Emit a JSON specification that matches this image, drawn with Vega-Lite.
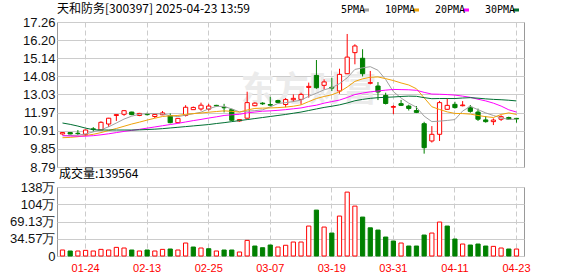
{
  "$schema": "https://vega.github.io/schema/vega-lite/v6.json",
  "autosize": {"type": "pad"},
  "padding": {"left": 8, "top": 2, "right": 5, "bottom": 2},
  "background": "#ffffff",
  "bounds": "flush",
  "spacing": 20,
  "config": {
    "view": {"stroke": "#999999", "strokeWidth": 1},
    "axis": {"labelFont": "Liberation Sans", "domain": false, "ticks": false, "gridColor": "#cccccc", "gridWidth": 1, "title": null, "labelColor": "#111111", "labelOverlap": false},
    "title": {"font": "Noto Sans CJK SC", "fontSize": 12, "fontWeight": "normal", "color": "#000000", "anchor": "start", "frame": "group"}
  },
  "datasets": {
    "k": [
      {"d":"01-21","o":10.72,"h":10.82,"l":10.68,"c":10.80,"v":120000,"vd":"up","5PMA":10.62,"10PMA":10.50,"20PMA":10.62,"30PMA":11.36},
      {"d":"01-22","o":10.80,"h":10.82,"l":10.70,"c":10.72,"v":100000,"vd":"down","5PMA":10.63,"10PMA":10.52,"20PMA":10.60,"30PMA":11.28},
      {"d":"01-23","o":10.76,"h":10.95,"l":10.66,"c":10.74,"v":100000,"vd":"up","5PMA":10.65,"10PMA":10.56,"20PMA":10.59,"30PMA":11.18},
      {"d":"01-24","o":10.70,"h":10.97,"l":10.60,"c":10.95,"v":113000,"vd":"up","5PMA":10.72,"10PMA":10.63,"20PMA":10.59,"30PMA":11.06},
      {"d":"01-27","o":11.02,"h":11.12,"l":10.86,"c":10.98,"v":100000,"vd":"up","5PMA":10.84,"10PMA":10.70,"20PMA":10.62,"30PMA":10.97},
      {"d":"02-05","o":10.96,"h":11.46,"l":10.94,"c":11.40,"v":133000,"vd":"up","5PMA":10.96,"10PMA":10.80,"20PMA":10.67,"30PMA":10.95},
      {"d":"02-06","o":11.30,"h":11.66,"l":11.13,"c":11.64,"v":120000,"vd":"up","5PMA":11.14,"10PMA":10.92,"20PMA":10.73,"30PMA":10.95},
      {"d":"02-07","o":11.80,"h":11.86,"l":11.48,"c":11.85,"v":173000,"vd":"up","5PMA":11.36,"10PMA":11.04,"20PMA":10.80,"30PMA":10.95},
      {"d":"02-10","o":11.87,"h":12.12,"l":11.78,"c":12.08,"v":160000,"vd":"up","5PMA":11.59,"10PMA":11.17,"20PMA":10.87,"30PMA":10.95},
      {"d":"02-11","o":12.00,"h":12.02,"l":11.82,"c":11.85,"v":120000,"vd":"down","5PMA":11.76,"10PMA":11.30,"20PMA":10.93,"30PMA":10.95},
      {"d":"02-12","o":11.80,"h":11.95,"l":11.76,"c":11.92,"v":100000,"vd":"up","5PMA":11.87,"10PMA":11.41,"20PMA":10.99,"30PMA":10.96},
      {"d":"02-13","o":11.88,"h":11.96,"l":11.80,"c":11.85,"v":120000,"vd":"down","5PMA":11.91,"10PMA":11.53,"20PMA":11.06,"30PMA":10.98},
      {"d":"02-14","o":11.74,"h":11.87,"l":11.65,"c":11.86,"v":100000,"vd":"up","5PMA":11.91,"10PMA":11.64,"20PMA":11.13,"30PMA":11.00},
      {"d":"02-17","o":11.84,"h":12.06,"l":11.82,"c":11.95,"v":133000,"vd":"up","5PMA":11.89,"10PMA":11.74,"20PMA":11.20,"30PMA":11.03},
      {"d":"02-18","o":11.79,"h":11.92,"l":11.34,"c":11.38,"v":140000,"vd":"down","5PMA":11.79,"10PMA":11.78,"20PMA":11.27,"30PMA":11.07},
      {"d":"02-19","o":11.38,"h":11.65,"l":11.36,"c":11.63,"v":120000,"vd":"up","5PMA":11.73,"10PMA":11.80,"20PMA":11.34,"30PMA":11.11},
      {"d":"02-20","o":11.80,"h":12.40,"l":11.74,"c":12.28,"v":260000,"vd":"up","5PMA":11.82,"10PMA":11.87,"20PMA":11.42,"30PMA":11.15},
      {"d":"02-21","o":12.14,"h":12.32,"l":12.12,"c":12.27,"v":180000,"vd":"down","5PMA":11.90,"10PMA":11.91,"20PMA":11.50,"30PMA":11.19},
      {"d":"02-24","o":12.18,"h":12.55,"l":12.08,"c":12.40,"v":160000,"vd":"up","5PMA":11.99,"10PMA":11.94,"20PMA":11.57,"30PMA":11.23},
      {"d":"02-25","o":12.17,"h":12.48,"l":12.08,"c":12.35,"v":146000,"vd":"down","5PMA":12.19,"10PMA":11.99,"20PMA":11.65,"30PMA":11.27},
      {"d":"02-26","o":12.39,"h":12.42,"l":12.33,"c":12.36,"v":100000,"vd":"up","5PMA":12.33,"10PMA":12.03,"20PMA":11.72,"30PMA":11.33},
      {"d":"02-27","o":12.28,"h":12.48,"l":11.98,"c":12.25,"v":120000,"vd":"down","5PMA":12.33,"10PMA":12.07,"20PMA":11.80,"30PMA":11.38},
      {"d":"02-28","o":12.14,"h":12.20,"l":11.48,"c":11.52,"v":120000,"vd":"down","5PMA":12.18,"10PMA":12.04,"20PMA":11.84,"30PMA":11.44},
      {"d":"03-03","o":11.48,"h":11.58,"l":11.44,"c":11.56,"v":80000,"vd":"up","5PMA":12.01,"10PMA":12.00,"20PMA":11.87,"30PMA":11.50},
      {"d":"03-04","o":11.64,"h":13.19,"l":11.62,"c":12.55,"v":313000,"vd":"up","5PMA":12.05,"10PMA":12.12,"20PMA":11.95,"30PMA":11.56},
      {"d":"03-05","o":12.37,"h":12.57,"l":12.34,"c":12.52,"v":200000,"vd":"down","5PMA":12.08,"10PMA":12.21,"20PMA":12.00,"30PMA":11.62},
      {"d":"03-06","o":12.52,"h":12.57,"l":12.42,"c":12.48,"v":166000,"vd":"down","5PMA":12.13,"10PMA":12.23,"20PMA":12.05,"30PMA":11.68},
      {"d":"03-07","o":12.44,"h":12.89,"l":12.34,"c":12.40,"v":220000,"vd":"down","5PMA":12.30,"10PMA":12.24,"20PMA":12.07,"30PMA":11.74},
      {"d":"03-10","o":12.67,"h":12.72,"l":12.52,"c":12.56,"v":180000,"vd":"up","5PMA":12.50,"10PMA":12.26,"20PMA":12.10,"30PMA":11.80},
      {"d":"03-11","o":12.44,"h":12.82,"l":12.28,"c":12.73,"v":215000,"vd":"up","5PMA":12.55,"10PMA":12.29,"20PMA":12.14,"30PMA":11.86},
      {"d":"03-12","o":12.72,"h":13.03,"l":12.59,"c":12.80,"v":280000,"vd":"up","5PMA":12.61,"10PMA":12.34,"20PMA":12.19,"30PMA":11.93},
      {"d":"03-13","o":12.74,"h":13.13,"l":12.43,"c":13.03,"v":280000,"vd":"up","5PMA":12.70,"10PMA":12.42,"20PMA":12.24,"30PMA":12.00},
      {"d":"03-14","o":13.44,"h":13.72,"l":12.84,"c":13.50,"v":600000,"vd":"up","5PMA":12.92,"10PMA":12.61,"20PMA":12.33,"30PMA":12.09},
      {"d":"03-17","o":14.14,"h":15.04,"l":13.36,"c":13.42,"v":920000,"vd":"down","5PMA":13.10,"10PMA":12.79,"20PMA":12.40,"30PMA":12.18},
      {"d":"03-18","o":13.56,"h":13.91,"l":13.32,"c":13.76,"v":580000,"vd":"up","5PMA":13.30,"10PMA":12.91,"20PMA":12.52,"30PMA":12.27},
      {"d":"03-19","o":13.44,"h":14.01,"l":13.23,"c":13.40,"v":460000,"vd":"down","5PMA":13.42,"10PMA":13.01,"20PMA":12.61,"30PMA":12.34},
      {"d":"03-20","o":13.23,"h":14.53,"l":13.07,"c":14.20,"v":800000,"vd":"up","5PMA":13.66,"10PMA":13.18,"20PMA":12.70,"30PMA":12.42},
      {"d":"03-21","o":14.24,"h":16.56,"l":14.22,"c":15.21,"v":1280000,"vd":"up","5PMA":14.00,"10PMA":13.46,"20PMA":12.85,"30PMA":12.53},
      {"d":"03-24","o":15.47,"h":15.96,"l":14.79,"c":15.86,"v":1000000,"vd":"up","5PMA":14.49,"10PMA":13.79,"20PMA":13.02,"30PMA":12.66},
      {"d":"03-25","o":15.14,"h":15.67,"l":14.08,"c":14.24,"v":780000,"vd":"down","5PMA":14.58,"10PMA":13.94,"20PMA":13.11,"30PMA":12.74},
      {"d":"03-26","o":13.68,"h":14.40,"l":13.62,"c":13.72,"v":565000,"vd":"down","5PMA":14.65,"10PMA":14.03,"20PMA":13.18,"30PMA":12.80},
      {"d":"03-27","o":13.52,"h":13.75,"l":12.70,"c":13.17,"v":520000,"vd":"down","5PMA":14.44,"10PMA":14.05,"20PMA":13.23,"30PMA":12.84},
      {"d":"03-28","o":12.97,"h":13.13,"l":12.44,"c":12.50,"v":380000,"vd":"down","5PMA":13.90,"10PMA":13.95,"20PMA":13.28,"30PMA":12.86},
      {"d":"03-31","o":12.28,"h":12.40,"l":11.88,"c":12.32,"v":300000,"vd":"down","5PMA":13.19,"10PMA":13.84,"20PMA":13.32,"30PMA":12.88},
      {"d":"04-01","o":12.49,"h":12.71,"l":12.35,"c":12.39,"v":260000,"vd":"up","5PMA":12.82,"10PMA":13.70,"20PMA":13.31,"30PMA":12.91},
      {"d":"04-02","o":12.35,"h":12.43,"l":12.09,"c":12.21,"v":200000,"vd":"down","5PMA":12.52,"10PMA":13.58,"20PMA":13.30,"30PMA":12.93},
      {"d":"04-03","o":12.09,"h":12.35,"l":11.94,"c":11.98,"v":200000,"vd":"down","5PMA":12.28,"10PMA":13.36,"20PMA":13.27,"30PMA":12.92},
      {"d":"04-07","o":11.32,"h":11.43,"l":9.57,"c":9.92,"v":420000,"vd":"down","5PMA":11.76,"10PMA":12.83,"20PMA":13.15,"30PMA":12.84},
      {"d":"04-08","o":10.31,"h":11.18,"l":10.22,"c":10.70,"v":460000,"vd":"up","5PMA":11.44,"10PMA":12.31,"20PMA":13.05,"30PMA":12.78},
      {"d":"04-09","o":10.70,"h":12.65,"l":10.31,"c":12.55,"v":680000,"vd":"up","5PMA":11.47,"10PMA":12.15,"20PMA":13.04,"30PMA":12.79},
      {"d":"04-10","o":12.16,"h":12.80,"l":12.12,"c":12.39,"v":600000,"vd":"down","5PMA":11.51,"10PMA":12.01,"20PMA":13.02,"30PMA":12.79},
      {"d":"04-11","o":12.45,"h":12.60,"l":12.20,"c":12.26,"v":340000,"vd":"down","5PMA":11.56,"10PMA":11.92,"20PMA":12.99,"30PMA":12.79},
      {"d":"04-14","o":12.37,"h":12.64,"l":12.33,"c":12.41,"v":240000,"vd":"up","5PMA":12.06,"10PMA":11.91,"20PMA":12.93,"30PMA":12.82},
      {"d":"04-15","o":12.28,"h":12.41,"l":11.96,"c":12.04,"v":220000,"vd":"down","5PMA":12.33,"10PMA":11.88,"20PMA":12.86,"30PMA":12.84},
      {"d":"04-16","o":12.00,"h":12.20,"l":11.48,"c":11.58,"v":240000,"vd":"down","5PMA":12.14,"10PMA":11.80,"20PMA":12.75,"30PMA":12.81},
      {"d":"04-17","o":11.54,"h":11.77,"l":11.38,"c":11.44,"v":200000,"vd":"down","5PMA":11.95,"10PMA":11.73,"20PMA":12.65,"30PMA":12.77},
      {"d":"04-18","o":11.44,"h":11.63,"l":11.24,"c":11.53,"v":193000,"vd":"up","5PMA":11.80,"10PMA":11.68,"20PMA":12.52,"30PMA":12.74},
      {"d":"04-21","o":11.58,"h":11.81,"l":11.48,"c":11.73,"v":160000,"vd":"up","5PMA":11.66,"10PMA":11.86,"20PMA":12.35,"30PMA":12.72},
      {"d":"04-22","o":11.68,"h":11.73,"l":11.54,"c":11.58,"v":140000,"vd":"down","5PMA":11.57,"10PMA":11.95,"20PMA":12.13,"30PMA":12.69},
      {"d":"04-23","o":11.63,"h":11.66,"l":11.38,"c":11.60,"v":139564,"vd":"up","5PMA":11.58,"10PMA":11.86,"20PMA":12.00,"30PMA":12.65}
    ]
  },
  "vconcat": [
    {
      "width": 467,
      "height": 145,
      "title": {"text": "天和防务[300397] 2025-04-23 13:59", "offset": 0},
      "data": {"name": "k"},
      "encoding": {
        "x": {
          "field": "d", "type": "ordinal", "sort": null,
          "scale": {"type": "band", "paddingInner": 0.45, "paddingOuter": 0.57, "align": 0.385,
            "domain": ["01-21","01-22","01-23","01-24","01-27","02-05","02-06","02-07","02-10","02-11","02-12","02-13","02-14","02-17","02-18","02-19","02-20","02-21","02-24","02-25","02-26","02-27","02-28","03-03","03-04","03-05","03-06","03-07","03-10","03-11","03-12","03-13","03-14","03-17","03-18","03-19","03-20","03-21","03-24","03-25","03-26","03-27","03-28","03-31","04-01","04-02","04-03","04-07","04-08","04-09","04-10","04-11","04-14","04-15","04-16","04-17","04-18","04-21","04-22","04-23"]},
          "axis": {"values": ["01-24","02-13","02-25","03-07","03-19","03-31","04-11","04-23"], "labels": false, "grid": true, "gridDash": [5, 3], "bandPosition": 0.5}
        }
      },
      "layer": [
        {
          "data": {"values": [{"wm": "东方财富"}]},
          "mark": {"type": "text", "font": "Noto Sans CJK SC", "fontSize": 34, "fontWeight": "bold", "color": "#ebebeb", "align": "center", "baseline": "middle"},
          "encoding": {
            "x": {"datum": "03-14", "type": "ordinal"},
            "y": {"datum": 13.23, "type": "quantitative"},
            "text": {"field": "wm"}
          }
        },
        {
          "mark": {"type": "rule", "strokeWidth": 1},
          "encoding": {
            "y": {
              "field": "l", "type": "quantitative",
              "scale": {"domain": [8.79, 17.26], "zero": false, "nice": false},
              "axis": {"values": [8.79, 9.85, 10.91, 11.97, 13.03, 14.08, 15.14, 16.20, 17.26], "tickCount": 9, "format": ".2f", "labelFontSize": 13, "labelPadding": 2, "grid": true, "labelOverlap": false}
            },
            "y2": {"field": "h"},
            "color": {"condition": {"test": "datum.c >= datum.o", "value": "#ff0000"}, "value": "#008000"}
          }
        },
        {
          "mark": {"type": "bar", "strokeWidth": 1},
          "encoding": {
            "y": {"field": "o", "type": "quantitative"},
            "y2": {"field": "c"},
            "fill": {"condition": {"test": "datum.c >= datum.o", "value": "#ffffff"}, "value": "#008000"},
            "stroke": {"condition": {"test": "datum.c >= datum.o", "value": "#ff0000"}, "value": "#008000"}
          }
        },
        {
          "transform": [{"fold": ["5PMA", "10PMA", "20PMA", "30PMA"], "as": ["k", "val"]}],
          "mark": {"type": "line", "strokeWidth": 1},
          "encoding": {
            "y": {"field": "val", "type": "quantitative"},
            "color": {
              "field": "k", "type": "nominal",
              "scale": {"domain": ["5PMA", "10PMA", "20PMA", "30PMA"], "range": ["#a0a0a0", "#f0a30a", "#ff00ff", "#006f32"]},
              "legend": {
                "orient": "none", "legendX": 302, "legendY": -17, "direction": "horizontal", "title": null,
                "labelFont": "DejaVu Sans Mono", "labelFontSize": 10, "labelColor": "#000000",
                "labelAlign": "right", "labelOffset": -6, "symbolOffset": 2,
                "symbolType": "stroke", "symbolSize": 36, "symbolStrokeWidth": 3, "columnPadding": 9
              }
            }
          }
        }
      ]
    },
    {
      "width": 467,
      "height": 69,
      "title": {"text": "成交量:139564", "offset": 0, "dx": 2},
      "data": {"name": "k"},
      "mark": {"type": "bar", "strokeWidth": 1},
      "encoding": {
        "x": {
          "field": "d", "type": "ordinal", "sort": null,
          "scale": {"type": "band", "paddingInner": 0.45, "paddingOuter": 0.57, "align": 0.385},
          "axis": {"values": ["01-24","02-13","02-25","03-07","03-19","03-31","04-11","04-23"], "labelColor": "#ff0000", "labelFontSize": 11, "labelPadding": 6, "labelAngle": 0, "grid": true, "gridDash": [5, 3], "bandPosition": 0.5}
        },
        "y": {
          "field": "v", "type": "quantitative",
          "scale": {"domain": [0, 1382600], "nice": false},
          "axis": {"values": [0, 345700, 691300, 1037000, 1382600], "tickCount": 5, "labelExpr": "datum.value == 0 ? '0' : (datum.value >= 1000000 ? format(datum.value / 10000, '.0f') : format(datum.value / 10000, '.2f')) + '万'", "labelFontSize": 13, "labelPadding": 2, "grid": true}
        },
        "fill": {"condition": {"test": "datum.vd == 'up'", "value": "#ffffff"}, "value": "#008000"},
        "stroke": {"condition": {"test": "datum.vd == 'up'", "value": "#ff0000"}, "value": "#008000"}
      }
    }
  ]
}
